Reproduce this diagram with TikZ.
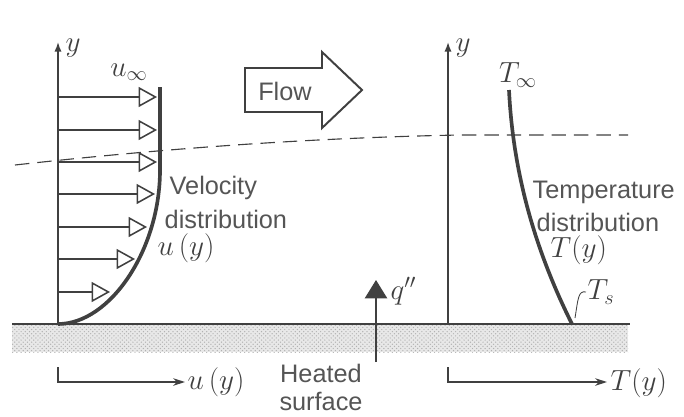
\documentclass[tikz,border=0pt]{standalone}
\usepackage{fontspec}
\setmainfont{Liberation Sans}
\usetikzlibrary{arrows.meta, patterns, positioning}
\definecolor{ink}{HTML}{404040}
\definecolor{inktxt}{HTML}{555555}
\tikzset{
  % assi del profilo
  axis/.style={line width=1.1pt, ink, -{Latex[length=2.4mm, width=1.8mm]}},
  % assi sotto la parete
  baxis/.style={line width=0.9pt, ink, -{Stealth[length=3mm, width=1.9mm]}},
  % frecce di velocita
  vel/.style={line width=0.9pt, ink, -{Triangle[open, length=4.6mm, width=5mm, line width=1.1pt]}},
  % profili di velocita e temperatura
  profile/.style={line width=2.6pt, ink},
  % strato limite
  blayer/.style={line width=0.8pt, ink, dash pattern=on 3.6mm off 2mm},
  % parete riscaldata
  wall/.style={line width=1.5pt, ink},
  heat/.style={line width=1pt, ink, -{Triangle[length=4.6mm, width=5.6mm]}},
  % testi
  lbl/.style={font=\fontsize{18}{21}\selectfont, text=inktxt, inner sep=1pt},
  mlbl/.style={font=\fontsize{20}{23}\selectfont, text=ink, inner sep=1pt},
}
\begin{document}
\begin{tikzpicture}[x=0.025cm, y=-0.025cm]
  \useasboundingbox (0,0) rectangle (684,416);
  % parete
  \fill[black!9] (12,325) rectangle (628,352);
  \fill[pattern=crosshatch dots, pattern color=black!30] (12,325) rectangle (628,352);
  \draw[wall] (12,324) -- (630,324);
  \coordinate (oL) at (58,324);
  \coordinate (topL) at (58,42);
  \coordinate (oR) at (448,324);
  \coordinate (topR) at (448,42);
  \draw[axis] (oL) -- (topL);
  \draw[axis] (oR) -- (topR);
  \node[mlbl] (yL) at (73,48) {$y$};
  \node[mlbl] (yR) at (463,48) {$y$};
  % velocita
  \foreach \y/\x in {97/157, 130/157, 162/157, 194/155, 227/147, 259/135, 292/110}
    \draw[vel] (58,\y) -- (\x,\y);
  \draw[profile] (160,87) -- (160,170) .. controls (160,250) and (110,324) .. (oL);
  \node[mlbl] (uinf) at (129,72) {$u_\infty$};
  \node[lbl, anchor=west] (vel1) at (168,188) {Velocity};
  \node[lbl, anchor=west] (vel2) at (163,219) {distribution};
  \node[mlbl, anchor=west] (uy) at (156,248) {$u\,(y)$};
  % strato limite
  \draw[blayer] (15,165) .. controls (150,150) and (300,138) .. (460,135) -- (628,135);
  % freccia del flusso
  \draw[line width=1.4pt, ink] (245,68) -- (322,68) -- (322,52) -- (362,90) -- (322,128)
    -- (322,112) -- (245,112) -- cycle;
  \node[lbl] (flow) at (285,91) {Flow};
  % temperatura
  \draw[profile] (509,90) .. controls (512,150) and (525,230) .. (572,324);
  \node[mlbl] (Tinf) at (518,75) {$T_\infty$};
  \node[lbl, anchor=west] (tmp1) at (531,192) {Temperature};
  \node[lbl, anchor=west] (tmp2) at (535,222) {distribution};
  \node[mlbl, anchor=west] (Ty) at (549,250) {$T(y)$};
  \node[mlbl, anchor=west] (Ts) at (586,292) {$T_s$};
  \draw[line width=0.6pt, ink] (575,318) .. controls (578,300) and (578,290) .. (Ts.west);
  % flusso termico
  \draw[heat] (376,362) -- (376,280);
  \node[mlbl, anchor=west] (q) at (389,291) {$q''$};
  \node[lbl] (heated) at (321,373) {Heated};
  \node[lbl] (surf) at (321,401) {surface};
  % assi in basso
  \draw[baxis] (58,367) |- (185,382);
  \node[mlbl, anchor=west] (ub) at (186,382) {$u\,(y)$};
  \draw[baxis] (448,367) |- (607,382);
  \node[mlbl, anchor=west] (Tb) at (609,383) {$T(y)$};
\end{tikzpicture}
\end{document}
